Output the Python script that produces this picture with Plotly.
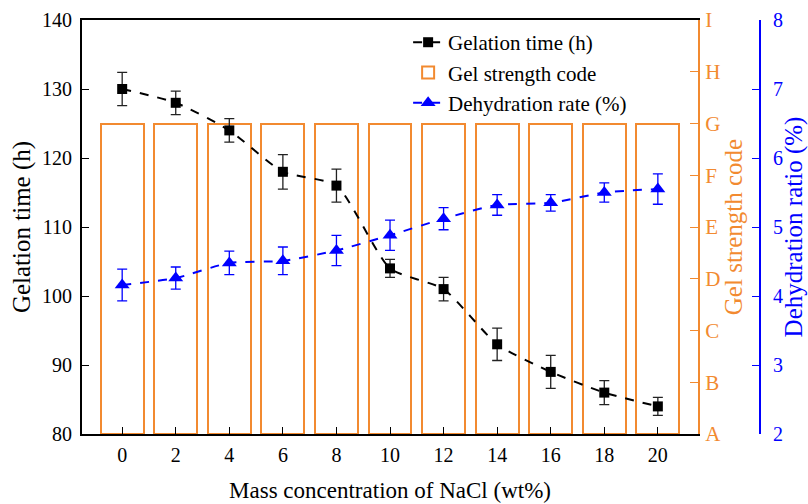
import plotly.graph_objects as go

nacl = [0, 2, 4, 6, 8, 10, 12, 14, 16, 18, 20]
gel_time = [130, 128, 124, 118, 116, 104, 101, 93, 89, 86, 84]
gel_time_err = [2.4, 1.7, 1.7, 2.5, 2.4, 1.3, 1.7, 2.35, 2.4, 1.75, 1.3]
strength_code = ["G", "G", "G", "G", "G", "G", "G", "G", "G", "G", "G"]
code_labels = ["A", "B", "C", "D", "E", "F", "G", "H", "I"]
dehydration = [4.16, 4.26, 4.48, 4.51, 4.66, 4.88, 5.12, 5.32, 5.35, 5.50, 5.55]
dehydration_err = [0.23, 0.16, 0.17, 0.20, 0.22, 0.22, 0.16, 0.15, 0.12, 0.14, 0.22]

ORANGE = "#F28A30"
BLUE = "#0000FF"
FONT = "Liberation Serif"

code_values = [code_labels.index(c) for c in strength_code]

fig = go.Figure()

fig.add_trace(go.Bar(
    x=nacl, y=code_values, width=1.6, name="Gel strength code",
    marker=dict(color="rgba(255,255,255,0)", line=dict(color=ORANGE, width=2)),
    yaxis="y", xaxis="x", legendrank=2,
))

fig.add_trace(go.Scatter(
    x=nacl, y=gel_time, name="Gelation time (h)", mode="lines+markers",
    line=dict(color="black", width=2, dash="dash", shape="spline", smoothing=0.6),
    marker=dict(symbol="square", size=10, color="black"),
    error_y=dict(type="data", array=gel_time_err, color="#222222", thickness=1.3, width=5),
    yaxis="y2", xaxis="x", legendrank=1,
))

fig.add_trace(go.Scatter(
    x=nacl, y=dehydration, name="Dehydration rate (%)", mode="lines+markers",
    line=dict(color=BLUE, width=2, dash="dash", shape="spline", smoothing=0.6),
    marker=dict(symbol="triangle-up", size=13, color=BLUE),
    error_y=dict(type="data", array=dehydration_err, color=BLUE, thickness=1.3, width=5),
    yaxis="y3", xaxis="x", legendrank=3,
))

fig.update_layout(
    width=808, height=504,
    margin=dict(l=82, r=48, t=20, b=70, autoexpand=False),
    paper_bgcolor="white", plot_bgcolor="white",
    font=dict(family=FONT, size=20, color="black"),
    showlegend=True,
    bargap=0,
    legend=dict(x=0.481, y=0.995, xanchor="left", yanchor="top",
                bgcolor="rgba(255,255,255,0)", font=dict(size=21),
                tracegroupgap=0),
    xaxis=dict(
        domain=[0, 0.9086], range=[-1.5, 21.5], automargin=False,
        tickmode="array", tickvals=nacl, ticktext=[str(v) for v in nacl],
        ticks="inside", ticklen=7, tickwidth=1.3, tickcolor="black",
        ticklabelstandoff=2,
        showline=True, linecolor="black", linewidth=2, mirror=True,
        showgrid=False, zeroline=False,
        title=dict(text="Mass concentration of NaCl (wt%)", font=dict(size=23), standoff=17),
        tickfont=dict(size=20),
    ),
    yaxis=dict(
        range=[0, 8], side="right", anchor="x", automargin=False,
        tickmode="array", tickvals=list(range(len(code_labels))), ticktext=code_labels,
        ticks="inside", ticklen=8, tickwidth=1.3, tickcolor=ORANGE,
        ticklabelstandoff=1,
        showline=True, linecolor=ORANGE, linewidth=2,
        showgrid=False, zeroline=False,
        tickfont=dict(color=ORANGE, size=21),
        title=dict(text="Gel strength code", font=dict(color=ORANGE, size=25), standoff=1),
    ),
    yaxis2=dict(
        range=[80, 140], overlaying="y", side="left", anchor="x", automargin=False,
        dtick=10, ticks="inside", ticklen=7, tickwidth=1.3, tickcolor="black",
        ticklabelstandoff=4,
        showline=True, linecolor="black", linewidth=2,
        showgrid=False, zeroline=False,
        tickfont=dict(size=20),
        title=dict(text="Gelation time (h)", font=dict(size=25), standoff=4),
    ),
    yaxis3=dict(
        range=[2, 8], overlaying="y", side="right", anchor="free", position=1.0,
        automargin=False,
        dtick=1, ticks="inside", ticklen=7, tickwidth=1.3, tickcolor=BLUE,
        ticklabelstandoff=8,
        showline=True, linecolor=BLUE, linewidth=2,
        showgrid=False, zeroline=False,
        tickfont=dict(color=BLUE, size=20),
        title=dict(text="Dehydration ratio (%)", font=dict(color=BLUE, size=25), standoff=6),
    ),
)

fig.write_html("out.html", config={"displayModeBar": False},
               post_script="document.body.style.margin='0';")
